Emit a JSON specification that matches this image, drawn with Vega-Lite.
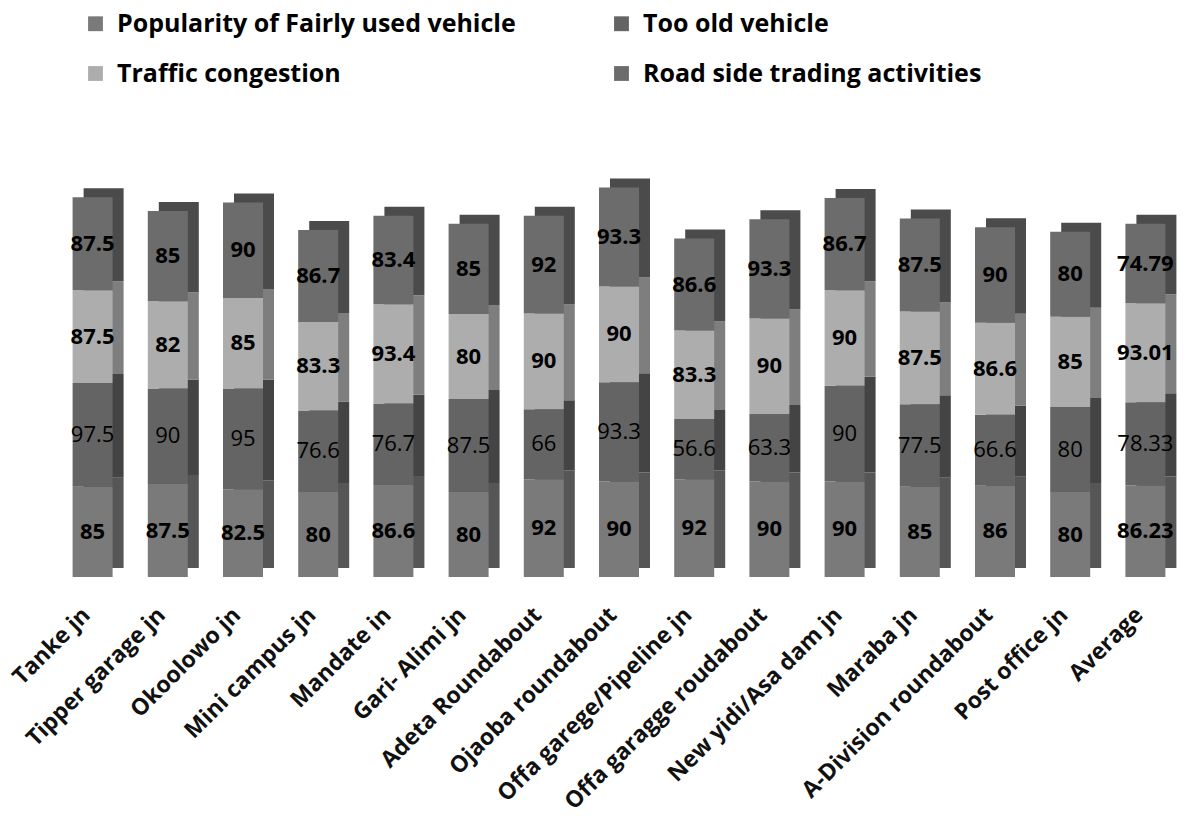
{
  "$schema": "https://vega.github.io/schema/vega-lite/v6.json",
  "width": 1128,
  "height": 425,
  "autosize": "none",
  "padding": {"left": 55, "top": 152, "right": 9, "bottom": 241},
  "config": {"view": {"stroke": null}, "font": "Open Sans"},
  "data": {"values": [
    {"site": "Tanke jn", "series": "Popularity of Fairly used vehicle", "k": 1, "value": 85},
    {"site": "Tanke jn", "series": "Too old vehicle", "k": 2, "value": 97.5},
    {"site": "Tanke jn", "series": "Traffic congestion", "k": 3, "value": 87.5},
    {"site": "Tanke jn", "series": "Road side trading activities", "k": 4, "value": 87.5},
    {"site": "Tipper garage jn", "series": "Popularity of Fairly used vehicle", "k": 1, "value": 87.5},
    {"site": "Tipper garage jn", "series": "Too old vehicle", "k": 2, "value": 90},
    {"site": "Tipper garage jn", "series": "Traffic congestion", "k": 3, "value": 82},
    {"site": "Tipper garage jn", "series": "Road side trading activities", "k": 4, "value": 85},
    {"site": "Okoolowo jn", "series": "Popularity of Fairly used vehicle", "k": 1, "value": 82.5},
    {"site": "Okoolowo jn", "series": "Too old vehicle", "k": 2, "value": 95},
    {"site": "Okoolowo jn", "series": "Traffic congestion", "k": 3, "value": 85},
    {"site": "Okoolowo jn", "series": "Road side trading activities", "k": 4, "value": 90},
    {"site": "Mini campus jn", "series": "Popularity of Fairly used vehicle", "k": 1, "value": 80},
    {"site": "Mini campus jn", "series": "Too old vehicle", "k": 2, "value": 76.6},
    {"site": "Mini campus jn", "series": "Traffic congestion", "k": 3, "value": 83.3},
    {"site": "Mini campus jn", "series": "Road side trading activities", "k": 4, "value": 86.7},
    {"site": "Mandate in", "series": "Popularity of Fairly used vehicle", "k": 1, "value": 86.6},
    {"site": "Mandate in", "series": "Too old vehicle", "k": 2, "value": 76.7},
    {"site": "Mandate in", "series": "Traffic congestion", "k": 3, "value": 93.4},
    {"site": "Mandate in", "series": "Road side trading activities", "k": 4, "value": 83.4},
    {"site": "Gari- Alimi jn", "series": "Popularity of Fairly used vehicle", "k": 1, "value": 80},
    {"site": "Gari- Alimi jn", "series": "Too old vehicle", "k": 2, "value": 87.5},
    {"site": "Gari- Alimi jn", "series": "Traffic congestion", "k": 3, "value": 80},
    {"site": "Gari- Alimi jn", "series": "Road side trading activities", "k": 4, "value": 85},
    {"site": "Adeta Roundabout", "series": "Popularity of Fairly used vehicle", "k": 1, "value": 92},
    {"site": "Adeta Roundabout", "series": "Too old vehicle", "k": 2, "value": 66},
    {"site": "Adeta Roundabout", "series": "Traffic congestion", "k": 3, "value": 90},
    {"site": "Adeta Roundabout", "series": "Road side trading activities", "k": 4, "value": 92},
    {"site": "Ojaoba roundabout", "series": "Popularity of Fairly used vehicle", "k": 1, "value": 90},
    {"site": "Ojaoba roundabout", "series": "Too old vehicle", "k": 2, "value": 93.3},
    {"site": "Ojaoba roundabout", "series": "Traffic congestion", "k": 3, "value": 90},
    {"site": "Ojaoba roundabout", "series": "Road side trading activities", "k": 4, "value": 93.3},
    {"site": "Offa garege/Pipeline jn", "series": "Popularity of Fairly used vehicle", "k": 1, "value": 92},
    {"site": "Offa garege/Pipeline jn", "series": "Too old vehicle", "k": 2, "value": 56.6},
    {"site": "Offa garege/Pipeline jn", "series": "Traffic congestion", "k": 3, "value": 83.3},
    {"site": "Offa garege/Pipeline jn", "series": "Road side trading activities", "k": 4, "value": 86.6},
    {"site": "Offa garagge roudabout", "series": "Popularity of Fairly used vehicle", "k": 1, "value": 90},
    {"site": "Offa garagge roudabout", "series": "Too old vehicle", "k": 2, "value": 63.3},
    {"site": "Offa garagge roudabout", "series": "Traffic congestion", "k": 3, "value": 90},
    {"site": "Offa garagge roudabout", "series": "Road side trading activities", "k": 4, "value": 93.3},
    {"site": "New yidi/Asa dam jn", "series": "Popularity of Fairly used vehicle", "k": 1, "value": 90},
    {"site": "New yidi/Asa dam jn", "series": "Too old vehicle", "k": 2, "value": 90},
    {"site": "New yidi/Asa dam jn", "series": "Traffic congestion", "k": 3, "value": 90},
    {"site": "New yidi/Asa dam jn", "series": "Road side trading activities", "k": 4, "value": 86.7},
    {"site": "Maraba jn", "series": "Popularity of Fairly used vehicle", "k": 1, "value": 85},
    {"site": "Maraba jn", "series": "Too old vehicle", "k": 2, "value": 77.5},
    {"site": "Maraba jn", "series": "Traffic congestion", "k": 3, "value": 87.5},
    {"site": "Maraba jn", "series": "Road side trading activities", "k": 4, "value": 87.5},
    {"site": "A-Division roundabout", "series": "Popularity of Fairly used vehicle", "k": 1, "value": 86},
    {"site": "A-Division roundabout", "series": "Too old vehicle", "k": 2, "value": 66.6},
    {"site": "A-Division roundabout", "series": "Traffic congestion", "k": 3, "value": 86.6},
    {"site": "A-Division roundabout", "series": "Road side trading activities", "k": 4, "value": 90},
    {"site": "Post office jn", "series": "Popularity of Fairly used vehicle", "k": 1, "value": 80},
    {"site": "Post office jn", "series": "Too old vehicle", "k": 2, "value": 80},
    {"site": "Post office jn", "series": "Traffic congestion", "k": 3, "value": 85},
    {"site": "Post office jn", "series": "Road side trading activities", "k": 4, "value": 80},
    {"site": "Average", "series": "Popularity of Fairly used vehicle", "k": 1, "value": 86.23},
    {"site": "Average", "series": "Too old vehicle", "k": 2, "value": 78.33},
    {"site": "Average", "series": "Traffic congestion", "k": 3, "value": 93.01},
    {"site": "Average", "series": "Road side trading activities", "k": 4, "value": 74.79}
  ]},
  "encoding": {
    "x": {
      "field": "site", "type": "nominal", "sort": null,
      "scale": {"paddingInner": 0, "paddingOuter": 0},
      "axis": {"title": null, "labelAngle": -45, "labelFont": "Open Sans", "labelFontWeight": "bold", "labelFontSize": 23, "labelColor": "#111", "labelAlign": "right", "labelBaseline": "middle", "labelOffset": -6, "domain": false, "ticks": false, "labelPadding": 34, "labelLimit": 400}
    }
  },
  "layer": [
    {
      "mark": {"type": "bar", "width": 40, "xOffset": 11, "yOffset": -9},
      "encoding": {
        "y": {"field": "value", "type": "quantitative", "stack": "zero", "scale": {"domain": [0, 400], "nice": false}, "axis": null},
        "color": {"field": "series", "type": "nominal",
          "scale": {"domain": ["Popularity of Fairly used vehicle", "Too old vehicle", "Traffic congestion", "Road side trading activities"], "range": ["#565656", "#444444", "#7e7e7e", "#4b4b4b"]},
          "legend": null},
        "order": {"field": "k", "type": "quantitative"}
      }
    },
    {
      "mark": {"type": "rule", "color": "#bdbdbd", "strokeWidth": 2},
      "encoding": {"y": {"datum": 0}}
    },
    {
      "mark": {"type": "bar", "width": 40},
      "encoding": {
        "y": {"field": "value", "type": "quantitative", "stack": "zero"},
        "color": {"field": "series", "type": "nominal",
          "scale": {"domain": ["Popularity of Fairly used vehicle", "Too old vehicle", "Traffic congestion", "Road side trading activities"], "range": ["#7a7a7a", "#646464", "#adadad", "#6c6c6c"]},
          "legend": {"title": null, "orient": "none", "legendX": 28, "legendY": -141, "columns": 2, "direction": "horizontal", "symbolType": "square", "symbolSize": 220, "symbolStrokeWidth": 0, "labelFont": "Open Sans", "labelFontSize": 25, "labelFontWeight": "bold", "labelColor": "#000", "labelLimit": 700, "columnPadding": 93, "rowPadding": 24, "labelOffset": 9}},
        "order": {"field": "k", "type": "quantitative"}
      }
    },
    {
      "transform": [
        {"stack": "value", "groupby": ["site"], "sort": [{"field": "k", "order": "ascending"}], "as": ["v0", "v1"]},
        {"calculate": "(datum.v0 + datum.v1) / 2", "as": "mid"},
        {"filter": "datum.k !== 2"}
      ],
      "mark": {"type": "text", "font": "Open Sans", "fontSize": 22, "fontWeight": "bold", "color": "#000"},
      "encoding": {
        "y": {"field": "mid", "type": "quantitative"},
        "text": {"field": "value", "type": "nominal"}
      }
    },
    {
      "transform": [
        {"stack": "value", "groupby": ["site"], "sort": [{"field": "k", "order": "ascending"}], "as": ["v0", "v1"]},
        {"calculate": "(datum.v0 + datum.v1) / 2", "as": "mid"},
        {"filter": "datum.k === 2"}
      ],
      "mark": {"type": "text", "font": "Open Sans", "fontSize": 22, "fontWeight": "normal", "color": "#000"},
      "encoding": {
        "y": {"field": "mid", "type": "quantitative"},
        "text": {"field": "value", "type": "nominal"}
      }
    }
  ],
  "resolve": {"scale": {"color": "independent"}}
}
